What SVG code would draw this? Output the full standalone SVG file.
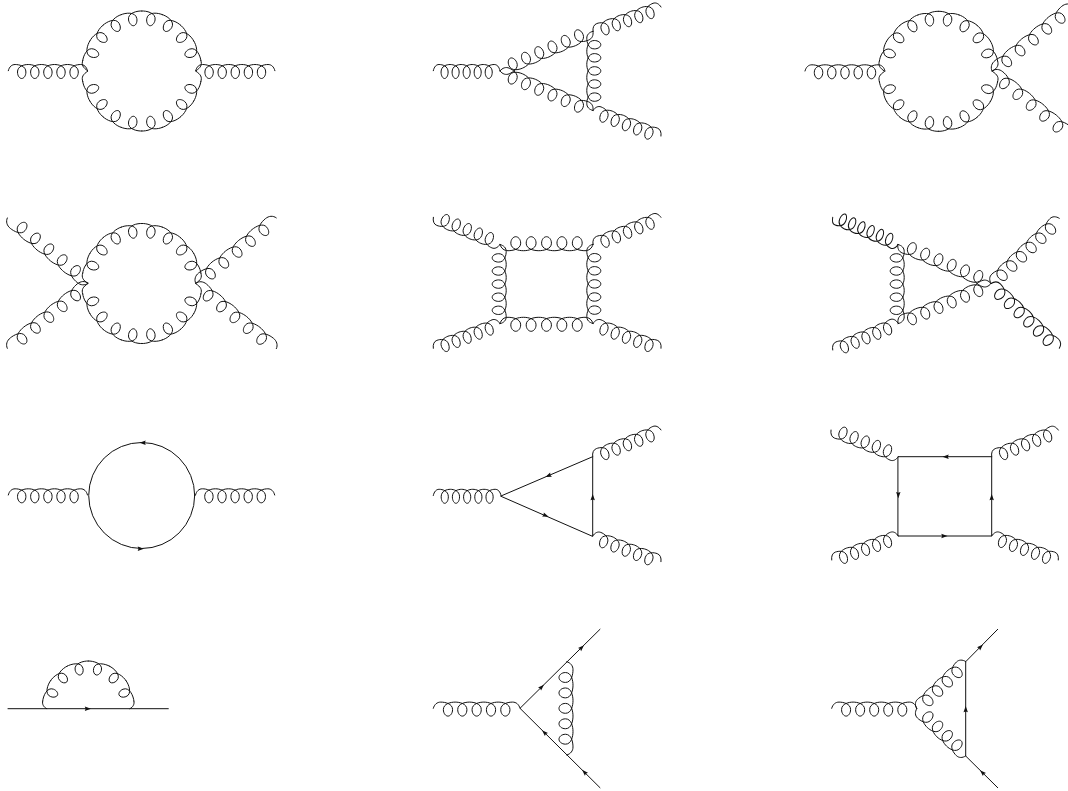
<svg xmlns="http://www.w3.org/2000/svg" width="1068" height="791" viewBox="0 0 1068 791">
<style>
.l{fill:none;stroke:#111;stroke-width:1;vector-effect:non-scaling-stroke;stroke-linecap:round;stroke-linejoin:round}
.a{fill:#111;stroke:none}
</style>
<defs>
<path id="g4" class="l" d="M0,0c1,-4 3.5,-6.2 6.85,-6.2c3.8,0 10.75,1.4 10.75,7.5c0,4 -2.2,6.5 -4.2,6.5c-2,0 -4.2,-2.5 -4.2,-6.5c0,-6.1 6.95,-7.5 10.75,-7.5c3.8,0 10.75,1.4 10.75,7.5c0,4 -2.2,6.5 -4.2,6.5c-2,0 -4.2,-2.5 -4.2,-6.5c0,-6.1 6.95,-7.5 10.75,-7.5c3.8,0 10.75,1.4 10.75,7.5c0,4 -2.2,6.5 -4.2,6.5c-2,0 -4.2,-2.5 -4.2,-6.5c0,-6.1 6.95,-7.5 10.75,-7.5c3.8,0 10.75,1.4 10.75,7.5c0,4 -2.2,6.5 -4.2,6.5c-2,0 -4.2,-2.5 -4.2,-6.5c0,-6.1 6.95,-7.5 10.75,-7.5c3.35,0 5.85,2.2 6.85,6.2"/>
<path id="g5" class="l" d="M0,0c1,-4 3.5,-6.2 6.85,-6.2c3.8,0 10.75,1.4 10.75,7.5c0,4 -2.2,6.5 -4.2,6.5c-2,0 -4.2,-2.5 -4.2,-6.5c0,-6.1 6.95,-7.5 10.75,-7.5c3.8,0 10.75,1.4 10.75,7.5c0,4 -2.2,6.5 -4.2,6.5c-2,0 -4.2,-2.5 -4.2,-6.5c0,-6.1 6.95,-7.5 10.75,-7.5c3.8,0 10.75,1.4 10.75,7.5c0,4 -2.2,6.5 -4.2,6.5c-2,0 -4.2,-2.5 -4.2,-6.5c0,-6.1 6.95,-7.5 10.75,-7.5c3.8,0 10.75,1.4 10.75,7.5c0,4 -2.2,6.5 -4.2,6.5c-2,0 -4.2,-2.5 -4.2,-6.5c0,-6.1 6.95,-7.5 10.75,-7.5c3.8,0 10.75,1.4 10.75,7.5c0,4 -2.2,6.5 -4.2,6.5c-2,0 -4.2,-2.5 -4.2,-6.5c0,-6.1 6.95,-7.5 10.75,-7.5c3.35,0 5.85,2.2 6.85,6.2"/>
<path id="g6" class="l" d="M0,0c1,-4 3.5,-6.2 6.85,-6.2c3.8,0 10.75,1.4 10.75,7.5c0,4 -2.2,6.5 -4.2,6.5c-2,0 -4.2,-2.5 -4.2,-6.5c0,-6.1 6.95,-7.5 10.75,-7.5c3.8,0 10.75,1.4 10.75,7.5c0,4 -2.2,6.5 -4.2,6.5c-2,0 -4.2,-2.5 -4.2,-6.5c0,-6.1 6.95,-7.5 10.75,-7.5c3.8,0 10.75,1.4 10.75,7.5c0,4 -2.2,6.5 -4.2,6.5c-2,0 -4.2,-2.5 -4.2,-6.5c0,-6.1 6.95,-7.5 10.75,-7.5c3.8,0 10.75,1.4 10.75,7.5c0,4 -2.2,6.5 -4.2,6.5c-2,0 -4.2,-2.5 -4.2,-6.5c0,-6.1 6.95,-7.5 10.75,-7.5c3.8,0 10.75,1.4 10.75,7.5c0,4 -2.2,6.5 -4.2,6.5c-2,0 -4.2,-2.5 -4.2,-6.5c0,-6.1 6.95,-7.5 10.75,-7.5c3.8,0 10.75,1.4 10.75,7.5c0,4 -2.2,6.5 -4.2,6.5c-2,0 -4.2,-2.5 -4.2,-6.5c0,-6.1 6.95,-7.5 10.75,-7.5c3.35,0 5.85,2.2 6.85,6.2"/>
<path id="g5L" class="l" d="M0,0c1,-4 4.5,-6.2 8.9,-6.2c4.6,0 12.8,1.4 12.8,7.5c0,4 -2.2,6.5 -4.2,6.5c-2,0 -4.2,-2.5 -4.2,-6.5c0,-6.1 8.2,-7.5 12.8,-7.5c4.6,0 12.8,1.4 12.8,7.5c0,4 -2.2,6.5 -4.2,6.5c-2,0 -4.2,-2.5 -4.2,-6.5c0,-6.1 8.2,-7.5 12.8,-7.5c4.6,0 12.8,1.4 12.8,7.5c0,4 -2.2,6.5 -4.2,6.5c-2,0 -4.2,-2.5 -4.2,-6.5c0,-6.1 8.2,-7.5 12.8,-7.5c4.6,0 12.8,1.4 12.8,7.5c0,4 -2.2,6.5 -4.2,6.5c-2,0 -4.2,-2.5 -4.2,-6.5c0,-6.1 8.2,-7.5 12.8,-7.5c4.6,0 12.8,1.4 12.8,7.5c0,4 -2.2,6.5 -4.2,6.5c-2,0 -4.2,-2.5 -4.2,-6.5c0,-6.1 8.2,-7.5 12.8,-7.5c4.4,0 7.9,2.2 8.9,6.2"/>
<path id="g6L" class="l" d="M0,0c1,-4 3.8,-6.2 7.3,-6.2c4.2,0 11.4,1.4 11.4,7.5c0,4 -2.2,6.5 -4.2,6.5c-2,0 -4.2,-2.5 -4.2,-6.5c0,-6.1 7.2,-7.5 11.4,-7.5c4.2,0 11.4,1.4 11.4,7.5c0,4 -2.2,6.5 -4.2,6.5c-2,0 -4.2,-2.5 -4.2,-6.5c0,-6.1 7.2,-7.5 11.4,-7.5c4.2,0 11.4,1.4 11.4,7.5c0,4 -2.2,6.5 -4.2,6.5c-2,0 -4.2,-2.5 -4.2,-6.5c0,-6.1 7.2,-7.5 11.4,-7.5c4.2,0 11.4,1.4 11.4,7.5c0,4 -2.2,6.5 -4.2,6.5c-2,0 -4.2,-2.5 -4.2,-6.5c0,-6.1 7.2,-7.5 11.4,-7.5c4.2,0 11.4,1.4 11.4,7.5c0,4 -2.2,6.5 -4.2,6.5c-2,0 -4.2,-2.5 -4.2,-6.5c0,-6.1 7.2,-7.5 11.4,-7.5c4.2,0 11.4,1.4 11.4,7.5c0,4 -2.2,6.5 -4.2,6.5c-2,0 -4.2,-2.5 -4.2,-6.5c0,-6.1 7.2,-7.5 11.4,-7.5c3.5,0 6.3,2.2 7.3,6.2"/>
<path id="cc" class="l" d="M-10.42,-59.09C-6.5,-60.1 4.2,-60 4.2,-52.5C4.2,-48.8 2,-46 0,-46C-2,-46 -4.2,-48.8 -4.2,-52.5C-4.2,-60 6.5,-60.1 10.42,-59.09"/>
<g id="ring">
<use href="#cc" transform="rotate(10)"/><use href="#cc" transform="rotate(30)"/><use href="#cc" transform="rotate(50)"/><use href="#cc" transform="rotate(70)"/>
<use href="#cc" transform="rotate(-10)"/><use href="#cc" transform="rotate(-30)"/><use href="#cc" transform="rotate(-50)"/><use href="#cc" transform="rotate(-70)"/>
<use href="#cc" transform="rotate(110)"/><use href="#cc" transform="rotate(130)"/><use href="#cc" transform="rotate(150)"/><use href="#cc" transform="rotate(170)"/>
<use href="#cc" transform="rotate(-110)"/><use href="#cc" transform="rotate(-130)"/><use href="#cc" transform="rotate(-150)"/><use href="#cc" transform="rotate(-170)"/>
<path class="l" d="M-59.09,-10.42C-60.5,-6 -59,-3.5 -53.8,0C-59,3.5 -60.5,6 -59.09,10.42M59.09,-10.42C60.5,-6 59,-3.5 53.8,0C59,3.5 60.5,6 59.09,10.42"/>
</g>
<path id="ca" class="l" d="M-10.94,-44.68C-6.5,-46 4,-46 4,-38.8C4,-35.5 2,-33 0,-33C-2,-33 -4,-35.5 -4,-38.8C-4,-46 6.5,-46 10.94,-44.68"/>
<path id="a" class="a" d="M3.2,0L-3,-2.2L-2.2,0L-3,2.2Z"/>
</defs>
<g id="connectors">
<g id="d1">
<use href="#g5" transform="translate(8.3 70.7)"/>
<use href="#g5" transform="translate(195.7 70.7)"/>
<use href="#ring" transform="translate(141.8 71)"/>
</g>
<g id="d2">
<use href="#g5" transform="translate(433.3 70.7) scale(.842 1)"/>
<use href="#g6L" transform="translate(593 31.5) rotate(157)"/>
<use href="#g6L" transform="translate(500 71) rotate(23)"/>
<use href="#g5" transform="translate(593 110.5) rotate(-90)"/>
<use href="#g5" transform="translate(593 31.5) rotate(-19.8) scale(.913 1)"/>
<use href="#g5" transform="translate(593 110.5) rotate(20.6) scale(.917 1)"/>
</g>
<g id="d3">
<use href="#g5" transform="translate(805 71) scale(1.01 1)"/>
<use href="#ring" transform="translate(938.5 71.3)"/>
<use href="#g5L" transform="translate(992 71) rotate(-39.1)"/>
<use href="#g5L" transform="translate(992 71) rotate(39)"/>
</g>
<g id="d4">
<use href="#ring" transform="translate(141.8 283.5)"/>
<use href="#g5L" transform="translate(88 283.3) rotate(219)"/>
<use href="#g5L" transform="translate(7.3 348.3) rotate(-38.9)"/>
<use href="#g5L" transform="translate(195.7 283.3) rotate(-39.1)"/>
<use href="#g5L" transform="translate(195.7 283.3) rotate(39)"/>
</g>
<g id="d5">
<use href="#g5" transform="translate(593 244.5) rotate(180) scale(1.174 1)"/>
<use href="#g5" transform="translate(500 323.5) scale(1.174 1)"/>
<use href="#g5" transform="translate(500 244.5) rotate(90)"/>
<use href="#g5" transform="translate(593 323.5) rotate(-90)"/>
<use href="#g5" transform="translate(500 244.5) rotate(202.2) scale(.909 1)"/>
<use href="#g5" transform="translate(433.3 348.3) rotate(-20.4) scale(.898 1)"/>
<use href="#g5" transform="translate(593 244.5) rotate(-21.8) scale(.924 1)"/>
<use href="#g5" transform="translate(593 323.5) rotate(20) scale(.914 1)"/>
</g>
<g id="d6">
<use href="#g5" transform="translate(898 244.5) rotate(90)"/>
<use href="#g6L" transform="translate(991 283.5) rotate(202.75)"/>
<use href="#g6L" transform="translate(898 323) rotate(-23)"/>
<use href="#g6" transform="translate(898 244.5) rotate(202.6) scale(.766 1)"/>
<use href="#g5" transform="translate(832.7 350) rotate(-22.5) scale(.893 1)"/>
<use href="#g6" transform="translate(991 283.5) rotate(-43.7) scale(1.023 1)"/>
<use href="#g6" transform="translate(991 283.5) rotate(43.5) scale(1.02 1)"/>
</g>
<g id="d7">
<use href="#g5" transform="translate(8.3 495)"/>
<use href="#g5" transform="translate(195.5 495)"/>
<circle class="l" cx="141.7" cy="495.5" r="53"/>
<use href="#a" transform="translate(142.7 442.7) rotate(180)"/>
<use href="#a" transform="translate(140.7 548.7)"/>
</g>
<g id="d8">
<use href="#g5" transform="translate(433.3 495.5) scale(.855 1)"/>
<use href="#g5" transform="translate(592.7 456.7) rotate(-21.4) scale(.926 1)"/>
<use href="#g5" transform="translate(592.7 536) rotate(20.6) scale(.921 1)"/>
<path class="l" d="M501,496L592.7,456.7V536Z"/>
<use href="#a" transform="translate(548.3 475.8) rotate(156.8)"/>
<use href="#a" transform="translate(545.7 515.6) rotate(23.4)"/>
<use href="#a" transform="translate(592.7 497.3) rotate(-90)"/>
</g>
<g id="d9">
<use href="#g5" transform="translate(898.3 456.7) rotate(201.6) scale(.914 1)"/>
<use href="#g5" transform="translate(831.7 560) rotate(-19.8) scale(.894 1)"/>
<use href="#g5" transform="translate(991.7 456.7) rotate(-21.8) scale(.906 1)"/>
<use href="#g5" transform="translate(991.7 536) rotate(19.8) scale(.894 1)"/>
<rect class="l" x="898.3" y="456.7" width="93.4" height="79.3"/>
<use href="#a" transform="translate(945.7 456.7) rotate(180)"/>
<use href="#a" transform="translate(898.3 495) rotate(90)"/>
<use href="#a" transform="translate(944.3 536)"/>
<use href="#a" transform="translate(991.7 497.3) rotate(-90)"/>
</g>
<g id="d10">
<path class="l" d="M8,708.7H168.3"/>
<use href="#a" transform="translate(87.8 708.7)"/>
<g transform="translate(88.3 707)">
<use href="#ca" transform="rotate(-68.75)"/><use href="#ca" transform="rotate(-41.25)"/><use href="#ca" transform="rotate(-13.75)"/>
<use href="#ca" transform="rotate(13.75)"/><use href="#ca" transform="rotate(41.25)"/><use href="#ca" transform="rotate(68.75)"/>
<path class="l" d="M-45.63,-5.8C-46.3,-3 -45,0 -41.6,1.7M45.63,-5.8C46.3,-3 45,0 41.6,1.7"/>
</g>
</g>
<g id="d11">
<use href="#g5" transform="translate(433.3 708.3) scale(1.095 1)"/>
<path class="l" d="M600,629.3L520,708.3L600,787.7"/>
<use href="#g5" transform="translate(566.8 661.7) rotate(90) scale(1.178 1)"/>
<use href="#a" transform="translate(581.7 647.5) rotate(-44.6)"/>
<use href="#a" transform="translate(541.7 686.9) rotate(-44.6)"/>
<use href="#a" transform="translate(544.3 732.4) rotate(-135.2)"/>
<use href="#a" transform="translate(584.3 772.1) rotate(-135.2)"/>
</g>
<g id="d12">
<use href="#g5" transform="translate(831.7 708.3) scale(1.073 1)"/>
<use href="#g4" transform="translate(916.7 708.7) rotate(-43.8) scale(1.03 1)"/>
<use href="#g4" transform="translate(965.7 756) rotate(224) scale(1.03 1)"/>
<path class="l" d="M997.7,629.3L965.7,661.7V756L997.7,787.7"/>
<use href="#a" transform="translate(980.7 646.7) rotate(-45)"/>
<use href="#a" transform="translate(982.3 772.4) rotate(-135)"/>
<use href="#a" transform="translate(965.7 709.3) rotate(-90)"/>
</g>
</g>
</svg>
